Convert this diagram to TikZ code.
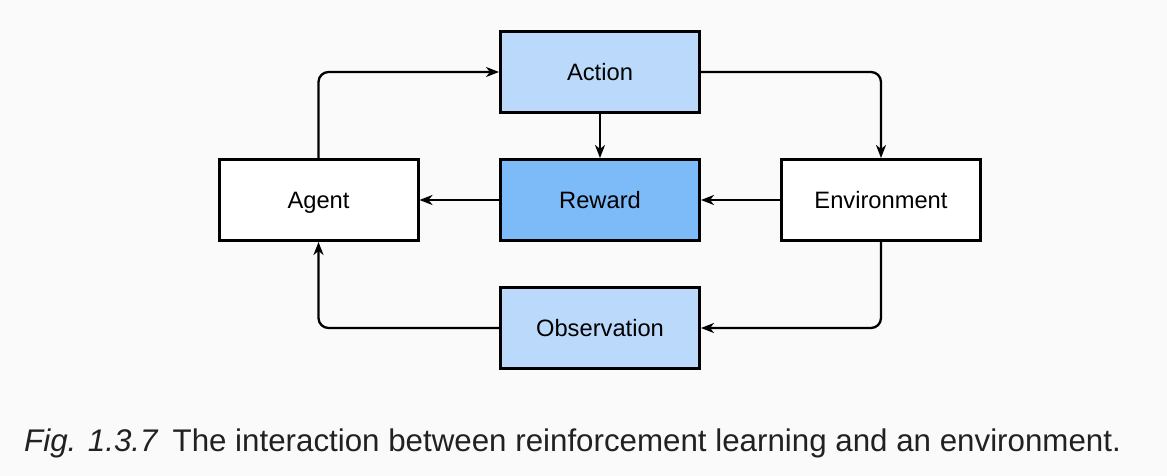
\documentclass[tikz,border=0pt]{standalone}
\usepackage{fontspec}
\setmainfont{Liberation Sans}
\usetikzlibrary{arrows.meta}
\definecolor{bgc}{HTML}{FAFAFA}
\definecolor{lightblue}{HTML}{BBDAFB}
\definecolor{midblue}{HTML}{7DBBF8}
\definecolor{captc}{HTML}{212121}
\tikzset{
  box/.style={draw=black, line width=3pt, minimum width=199pt, minimum height=81pt, inner sep=0pt,
    text height=17pt, text depth=0pt,
    font=\fontsize{23.7pt}{28pt}\selectfont},
  arr/.style={draw=black, line width=2.3pt, rounded corners=10pt,
    -{Stealth[length=13pt,width=10pt,inset=4pt]}},
}
\begin{document}
\begin{tikzpicture}[x=1pt,y=-1pt]
\useasboundingbox (0,0) rectangle (1167,476);
\fill[bgc] (0,0) rectangle (1167,476);
\node[box, fill=lightblue] (action) at (600,72) {Action};
\node[box, fill=white] (agent) at (318.5,200) {Agent};
\node[box, fill=midblue] (reward) at (600,200) {Reward};
\node[box, fill=white] (env) at (881,200) {Environment};
\node[box, fill=lightblue] (obs) at (600,328) {Observation};
\draw[arr] (agent.north) |- (action.west);
\draw[arr] (action.east) -| (env.north);
\draw[arr] (action.south) -- (reward.north);
\draw[arr] (reward.west) -- (agent.east);
\draw[arr] (env.west) -- (reward.east);
\draw[arr] (env.south) |- (obs.east);
\draw[arr] (obs.west) -| (agent.south);
\node[anchor=base west, inner sep=0pt, text=captc, font=\fontsize{31.3pt}{36pt}\selectfont] (caption) at (24,451)
  {\textit{Fig. 1.3.7}\hspace{0.45em}The interaction between reinforcement learning and an environment.};
\end{tikzpicture}
\end{document}
